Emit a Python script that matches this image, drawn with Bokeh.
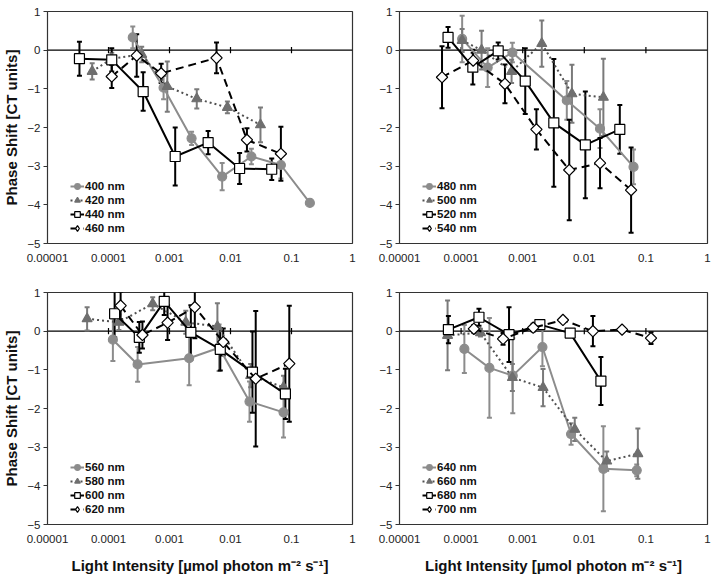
from bokeh.plotting import figure
from bokeh.models import Range1d, FixedTicker, CustomJSTickFormatter, Span, Legend, LegendItem
from bokeh.layouts import column, row
from bokeh.embed import file_html
from bokeh.resources import INLINE
import math

# ---------------- data ----------------
XTICKS = [0.00001, 0.0001, 0.001, 0.01, 0.1, 1]
YTICKS = [-5, -4, -3, -2, -1, 0, 1]

# Panel A
labels_a = ["400 nm", "420 nm", "440 nm", "460 nm"]
x400 = [0.00025, 0.0008, 0.0023, 0.0073, 0.022, 0.067, 0.20]
y400 = [0.33, -0.97, -2.28, -3.27, -2.75, -2.97, -3.95]
e400 = [0.28, 0.3, 0.17, 0.35, 0.2, 0.35, 0.08]
x420 = [0.000054, 0.000113, 0.00035, 0.00092, 0.0028, 0.0089, 0.031]
y420 = [-0.55, -0.22, -0.11, -0.94, -1.26, -1.48, -1.93]
e420 = [0.21, 0.15, 0.2, 0.65, 0.25, 0.15, 0.45]
x440 = [0.0000334, 0.000113, 0.00037, 0.00124, 0.0043, 0.0141, 0.0474]
y440 = [-0.22, -0.25, -1.07, -2.75, -2.39, -3.06, -3.08]
e440 = [0.44, 0.3, 0.5, 0.75, 0.3, 0.4, 0.28]
x460 = [0.000113, 0.00029, 0.00073, 0.0059, 0.0186, 0.067]
y460 = [-0.68, -0.14, -0.6, -0.2, -2.32, -2.68]
e460 = [0.3, 0.55, 0.25, 0.4, 0.3, 0.7]

# Panel B
labels_b = ["480 nm", "500 nm", "520 nm", "540 nm"]
x480 = [0.000104, 0.00027, 0.00068, 0.0052, 0.018, 0.063]
y480 = [0.29, -0.45, -0.06, -1.3, -2.03, -3.02]
e480 = [0.6, 0.5, 0.25, 0.5, 0.5, 0.45]
x500 = [0.000104, 0.000215, 0.00066, 0.00204, 0.0063, 0.0204]
y500 = [0.25, 0.0, -0.55, 0.17, -1.13, -1.22]
e500 = [0.3, 0.5, 0.3, 0.6, 0.75, 1.0]
x520 = [0.0000614, 0.000155, 0.0004, 0.0011, 0.0032, 0.0104, 0.0377]
y520 = [0.33, -0.44, -0.02, -0.8, -1.88, -2.45, -2.05]
e520 = [0.27, 0.45, 0.22, 0.85, 1.65, 1.38, 0.63]
x540 = [0.000049, 0.000157, 0.000515, 0.00167, 0.0057, 0.018, 0.0575]
y540 = [-0.7, -0.27, -0.87, -2.05, -3.1, -2.92, -3.62]
e540 = [0.8, 0.2, 0.5, 0.52, 1.3, 0.65, 1.1]

# Panel C
labels_c = ["560 nm", "580 nm", "600 nm", "620 nm"]
x560 = [0.000118, 0.0003, 0.0021, 0.0065, 0.0205, 0.074]
y560 = [-0.22, -0.86, -0.7, -0.43, -1.82, -2.1]
e560 = [0.55, 0.45, 0.7, 0.6, 0.52, 0.65]
x580 = [0.0000446, 0.000148, 0.00053, 0.00185, 0.0061, 0.0214, 0.074]
y580 = [0.32, 0.23, 0.71, 0.23, 0.12, -1.15, -1.45]
e580 = [0.3, 0.2, 0.17, 0.3, 0.6, 0.3, 0.3]
x600 = [0.000126, 0.00032, 0.00082, 0.00224, 0.0068, 0.0229, 0.0794]
y600 = [0.45, -0.16, 0.77, -0.03, -0.47, -1.06, -1.62]
e600 = [0.6, 0.4, 0.35, 0.7, 0.55, 1.05, 0.65]
x620 = [0.000158, 0.00036, 0.00093, 0.0026, 0.0076, 0.0259, 0.092]
y620 = [0.66, -0.1, 0.22, 0.62, -0.28, -1.23, -0.84]
e620 = [0.35, 0.35, 0.45, 0.8, 0.35, 1.75, 1.5]

# Panel D
labels_d = ["640 nm", "660 nm", "680 nm", "700 nm"]
x640 = [0.000113, 0.000288, 0.00069, 0.00209, 0.0061, 0.0204, 0.071]
y640 = [-0.46, -0.95, -1.15, -0.41, -2.66, -3.56, -3.6]
e640 = [0.62, 1.29, 0.97, 0.5, 0.28, 1.1, 0.15]
x660 = [0.0000603, 0.000206, 0.00068, 0.00214, 0.007, 0.0231, 0.074]
y660 = [-0.11, -0.04, -1.2, -1.46, -2.54, -3.36, -3.17]
e660 = [0.9, 0.1, 0.35, 0.48, 0.3, 0.25, 0.65]
x680 = [0.0000622, 0.000195, 0.0006, 0.0019, 0.0059, 0.0186]
y680 = [0.04, 0.36, -0.09, 0.17, -0.05, -1.29]
e680 = [0.35, 0.22, 0.71, 0.1, 0.05, 0.62]
x700 = [0.000161, 0.00048, 0.00148, 0.0045, 0.0138, 0.041, 0.121]
y700 = [0.06, -0.2, 0.09, 0.29, 0.0, 0.04, -0.18]
e700 = [0.1, 0.15, 0.1, 0.05, 0.39, 0.05, 0.15]

# ---------------- styles ----------------
GRAY = "#8c8c8c"
DGRAY = "#6f6f6f"
FONT = "Liberation Sans"

STYLES = [
    dict(marker="circle", size=9, fill=GRAY, mline=GRAY, lcolor=GRAY, dash="solid", ecolor=GRAY, angle=0.0, lmarker=None),
    dict(marker="triangle", size=10, fill=DGRAY, mline=DGRAY, lcolor="#505050", dash="2 3", ecolor="#7a7a7a", angle=0.0, lmarker=None),
    dict(marker="square", size=10, fill="white", mline="black", lcolor="black", dash="solid", ecolor="black", angle=0.0, lmarker=None),
    dict(marker="square", size=8, fill="white", mline="black", lcolor="black", dash="8 5", ecolor="black", angle=math.pi / 4, lmarker="diamond"),
]


def panel(series, labels, w, h, bl, br, bt, bb, xlabel, ylabel):
    p = figure(width=w, height=h, x_axis_type="log",
               x_range=Range1d(1e-5, 1), y_range=Range1d(-5, 1),
               output_backend="svg", toolbar_location=None,
               min_border_left=bl, min_border_right=br, min_border_top=bt, min_border_bottom=bb)
    p.background_fill_color = "white"
    p.border_fill_color = "white"
    p.grid.visible = False
    p.outline_line_color = "#333333"
    p.outline_line_width = 1.2

    xa = p.xaxis[0]
    xa.ticker = FixedTicker(ticks=XTICKS)
    xa.formatter = CustomJSTickFormatter(code="return tick.toString();")
    xa.axis_line_color = None
    xa.major_tick_line_color = None
    xa.minor_tick_line_color = None
    xa.major_tick_out = 0
    xa.major_tick_in = 0
    xa.minor_tick_out = 0
    xa.minor_tick_in = 0
    xa.major_label_standoff = 10
    xa.major_label_text_font = FONT
    xa.major_label_text_font_size = "11.5px"
    xa.major_label_text_color = "#222222"
    if xlabel:
        xa.axis_label = xlabel
        xa.axis_label_text_font = FONT
        xa.axis_label_text_font_style = "bold"
        xa.axis_label_text_font_size = "15px"
        xa.axis_label_text_color = "#111111"
        xa.axis_label_standoff = 11

    ya = p.yaxis[0]
    ya.ticker = FixedTicker(ticks=YTICKS)
    ya.axis_line_color = None
    ya.major_tick_line_color = "#333333"
    ya.major_tick_out = 4
    ya.major_tick_in = 0
    ya.minor_tick_line_color = None
    ya.major_label_standoff = 3
    ya.major_label_text_font = FONT
    ya.major_label_text_font_size = "11.5px"
    ya.major_label_text_color = "#222222"
    if ylabel:
        ya.axis_label = ylabel
        ya.axis_label_text_font = FONT
        ya.axis_label_text_font_style = "bold"
        ya.axis_label_text_font_size = "15px"
        ya.axis_label_text_color = "#111111"
        ya.axis_label_standoff = 4

    p.add_layout(Span(location=0, dimension="width", line_color="black", line_width=1.2, level="underlay"))
    inner = XTICKS[1:-1]
    p.segment(x0=inner, y0=[-0.08] * len(inner), x1=inner, y1=[0.08] * len(inner),
              line_color="black", line_width=1.2)

    # error bars
    for (xs, ys, es), st in zip(series, STYLES):
        lo = [y - e for y, e in zip(ys, es)]
        hi = [y + e for y, e in zip(ys, es)]
        p.segment(x0=xs, y0=lo, x1=xs, y1=hi, line_color=st["ecolor"], line_width=2)
        p.scatter(x=xs + xs, y=lo + hi, marker="dash", size=5, line_color=st["ecolor"], line_width=2)

    items = []
    for (xs, ys, es), st, lab in zip(series, STYLES, labels):
        lr = p.line(xs, ys, line_color=st["lcolor"], line_width=2, line_dash=st["dash"])
        mr = p.scatter(xs, ys, marker=st["marker"], size=st["size"], fill_color=st["fill"],
                       line_color=st["mline"], line_width=1.2, angle=st["angle"])
        if st["lmarker"]:
            hr = p.scatter(xs, ys, marker=st["lmarker"], size=11, fill_color=st["fill"],
                           line_color=st["mline"], line_width=1.2, visible=False)
            items.append(LegendItem(label=lab, renderers=[lr, hr]))
        else:
            items.append(LegendItem(label=lab, renderers=[lr, mr]))

    leg = Legend(items=items, location=(23, 8))
    leg.background_fill_alpha = 0
    leg.border_line_color = None
    leg.inactive_fill_alpha = 0
    leg.padding = 0
    leg.margin = 0
    leg.spacing = 0
    leg.glyph_width = 14
    leg.glyph_height = 14
    leg.label_height = 14
    leg.label_standoff = 1
    leg.label_text_font = FONT
    leg.label_text_font_style = "bold"
    leg.label_text_font_size = "11.5px"
    leg.label_text_color = "#111111"
    p.add_layout(leg)
    return p


YL = "Phase Shift [CT units]"
XL = "Light Intensity [µmol photon m⁻² s⁻¹]"

pa = panel([(x400, y400, e400), (x420, y420, e420), (x440, y440, e440), (x460, y460, e460)],
           labels_a, 360, 283, 45, 8, 11, 40, None, YL)
pb = panel([(x480, y480, e480), (x500, y500, e500), (x520, y520, e520), (x540, y540, e540)],
           labels_b, 352, 283, 39, 5, 11, 40, None, None)
pc = panel([(x560, y560, e560), (x580, y580, e580), (x600, y600, e600), (x620, y620, e620)],
           labels_c, 360, 293, 45, 8, 9, 52, XL, YL)
pd = panel([(x640, y640, e640), (x660, y660, e660), (x680, y680, e680), (x700, y700, e700)],
           labels_d, 352, 293, 39, 5, 9, 52, XL, None)

layout = column(row(pa, pb), row(pc, pd))
open("out.html", "w").write(file_html(layout, INLINE))
